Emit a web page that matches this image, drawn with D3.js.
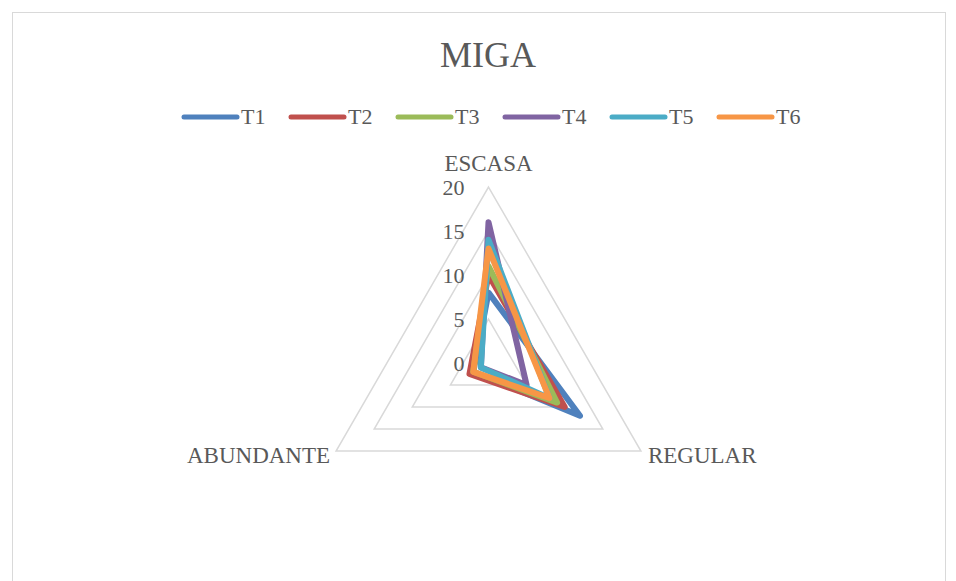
<!DOCTYPE html>
<html>
<head>
<meta charset="utf-8">
<script src="https://cdn.jsdelivr.net/npm/d3@7/dist/d3.min.js"></script>
<style>
  html, body { margin: 0; padding: 0; background: #ffffff; }
  svg { display: block; }
</style>
</head>
<body>
<svg id="chart" width="956" height="581"></svg>
<script>
// Radar chart "MIGA": panel counts per crumb category for six treatments
const categories = ["ESCASA", "REGULAR", "ABUNDANTE"];
const seriesNames = ["T1", "T2", "T3", "T4", "T5", "T6"];
const T1 = [8, 12, 2];
const T2 = [10, 10, 2.5];
const T3 = [11, 9, 2];
const T4 = [16, 5, 1];
const T5 = [14, 8, 1];
const T6 = [13, 8, 2];
const seriesValues = [T1, T2, T3, T4, T5, T6];
const colors = ["#4F81BD", "#C0504D", "#9BBB59", "#8064A2", "#4BACC6", "#F79646"];
const tickValues = [0, 5, 10, 15, 20];

const FONT = "Liberation Serif";
const TEXT_COLOR = "#595959";

const svg = d3.select("#chart");

// chart area frame
svg.append("rect")
  .attr("x", 12.5).attr("y", 12.5)
  .attr("width", 933).attr("height", 620)
  .attr("fill", "#ffffff")
  .attr("stroke", "#d9d9d9").attr("stroke-width", 1);

// title
svg.append("text")
  .attr("x", 488).attr("y", 67)
  .attr("text-anchor", "middle")
  .style("font-family", FONT).attr("fill", TEXT_COLOR)
  .attr("font-size", 36)
  .text("MIGA");

// legend
const legend = svg.append("g").attr("transform", "translate(184,117)");
const legendStep = 107;
seriesNames.forEach((name, i) => {
  const g = legend.append("g").attr("transform", `translate(${i * legendStep},0)`);
  g.append("line")
    .attr("x1", 0).attr("x2", 53).attr("y1", 0).attr("y2", 0)
    .attr("stroke", colors[i]).attr("stroke-width", 5)
    .attr("stroke-linecap", "round");
  g.append("text")
    .attr("x", 57).attr("y", 7)
    .style("font-family", FONT).attr("fill", TEXT_COLOR)
    .attr("font-size", 22)
    .text(name);
});

// radar geometry
const cx = 488.5, cy = 363;
const r = d3.scaleLinear().domain([0, 20]).range([0, 176]);
// three spokes, equally spaced, first one pointing up
const angleOf = (i) => i * 2 * Math.PI / categories.length;

const plot = svg.append("g").attr("transform", `translate(${cx},${cy})`);

// grid rings
const ring = d3.lineRadial()
  .angle((d, i) => angleOf(i))
  .radius(d => r(d))
  .curve(d3.curveLinearClosed);

tickValues.filter(v => v > 0).forEach(v => {
  plot.append("path")
    .attr("d", ring(categories.map(() => v)))
    .attr("fill", "none")
    .attr("stroke", "#d9d9d9")
    .attr("stroke-width", 1.5);
});

// tick labels along the top spoke
tickValues.forEach(v => {
  plot.append("text")
    .attr("x", -24)
    .attr("y", -r(v) + 8)
    .attr("text-anchor", "end")
    .style("font-family", FONT).attr("fill", TEXT_COLOR)
    .attr("font-size", 22)
    .text(v);
});

// category labels
categories.forEach((c, i) => {
  const a = angleOf(i);
  const px = Math.sin(a) * r(20);
  const py = -Math.cos(a) * r(20);
  const t = plot.append("text")
    .style("font-family", FONT).attr("fill", TEXT_COLOR)
    .attr("font-size", 23)
    .text(c);
  if (i === 0) {
    t.attr("x", px).attr("y", py - 16).attr("text-anchor", "middle");
  } else if (px > 0) {
    t.attr("x", px + 7).attr("y", py + 12).attr("text-anchor", "start");
  } else {
    t.attr("x", px - 6).attr("y", py + 12).attr("text-anchor", "end");
  }
});

// series polygons
const radarLine = d3.lineRadial()
  .angle((d, i) => angleOf(i))
  .radius(d => r(d))
  .curve(d3.curveLinearClosed);

seriesValues.forEach((vals, i) => {
  plot.append("path")
    .attr("d", radarLine(vals))
    .attr("fill", "none")
    .attr("stroke", colors[i])
    .attr("stroke-width", 6)
    .attr("stroke-linejoin", "round");
});
</script>
</body>
</html>
